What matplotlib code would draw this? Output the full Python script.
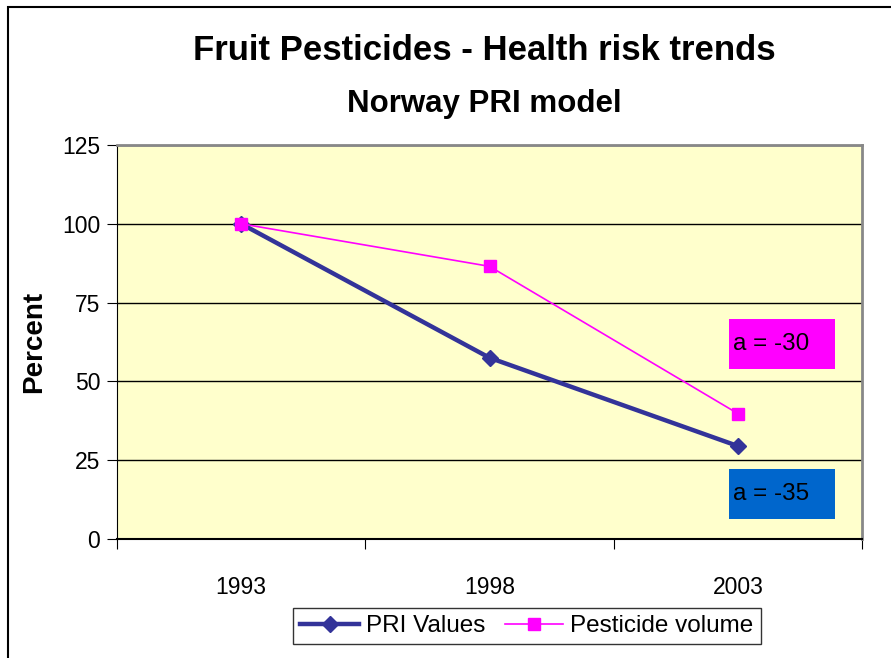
import matplotlib.pyplot as plt
from matplotlib.patches import Rectangle

years = ['1993', '1998', '2003']
pri_values = [100, 57.5, 29.5]
pesticide_volume = [100, 86.5, 39.8]
yticks = [0, 25, 50, 75, 100, 125]

plt.rcParams['font.family'] = ['Liberation Sans', 'DejaVu Sans']

fig = plt.figure(figsize=(8.91, 6.58), dpi=100)
W, H = 891, 658

# chart frame
fig.patches.append(Rectangle((8 / W, -0.1), 1.2, 1 - 7 / H + 0.1, transform=fig.transFigure,
                             fill=False, edgecolor='black', linewidth=1.5))

ax = fig.add_axes([117 / W, 1 - 539 / H, 745 / W, 394 / H])
ax.set_facecolor('#FFFFCC')

x = range(len(years))
ax.plot(x, pri_values, color='#333399', linewidth=3.2, marker='D', markersize=8,
        label='PRI Values')
ax.plot(x, pesticide_volume, color='#FF00FF', linewidth=1.2, marker='s', markersize=8,
        label='Pesticide volume')

ax.set_xlim(-0.5, 2.5)
ax.set_ylim(0, 125)
ax.set_yticks(yticks)
ax.set_yticklabels([str(v) for v in yticks], fontsize=16.5)
ax.yaxis.grid(True, color='black', linewidth=1)
ax.set_axisbelow(True)

ax.set_xticks([-0.5, 0.5, 1.5, 2.5])
ax.set_xticklabels([])
ax.set_xticks(list(x), minor=True)
ax.set_xticklabels(years, minor=True, fontsize=16.5)
ax.tick_params(axis='x', which='minor', length=0, pad=27)
ax.tick_params(axis='x', which='major', length=7, direction='out', color='black')
ax.tick_params(axis='y', length=7, direction='out', color='black', pad=5)

for side in ['top', 'right']:
    ax.spines[side].set_color('#888888')
    ax.spines[side].set_linewidth(2)
ax.spines['left'].set_color('black')
ax.spines['bottom'].set_color('black')
ax.spines['bottom'].set_linewidth(1.5)

ax.set_ylabel('Percent', fontsize=20, fontweight='bold', labelpad=11)

# annotation boxes
ax.add_patch(Rectangle((0.821, 0.431), 0.143, 0.127, transform=ax.transAxes,
                       facecolor='#FF00FF', edgecolor='none', zorder=3))
ax.text(0.827, 0.494, 'a = -30', transform=ax.transAxes, fontsize=17.5,
        va='center', ha='left', zorder=4)
ax.add_patch(Rectangle((0.821, 0.051), 0.143, 0.127, transform=ax.transAxes,
                       facecolor='#0066CC', edgecolor='none', zorder=3))
ax.text(0.827, 0.114, 'a = -35', transform=ax.transAxes, fontsize=17.5,
        va='center', ha='left', zorder=4)

fig.text(484 / W, 1 - 51 / H, 'Fruit Pesticides - Health risk trends', fontsize=25,
         fontweight='bold', ha='center', va='center')
fig.text(484 / W, 1 - 104 / H, 'Norway PRI model', fontsize=22.5,
         fontweight='bold', ha='center', va='center')

leg = fig.legend(loc='center', bbox_to_anchor=(527 / W, 1 - 626 / H), ncol=2,
                 fontsize=17.5, frameon=True, fancybox=False, edgecolor='black',
                 handlelength=2.4, columnspacing=0.8, handletextpad=0.3,
                 borderpad=0.3)
leg.get_frame().set_linewidth(1)

fig.savefig('out.png', dpi=100)
